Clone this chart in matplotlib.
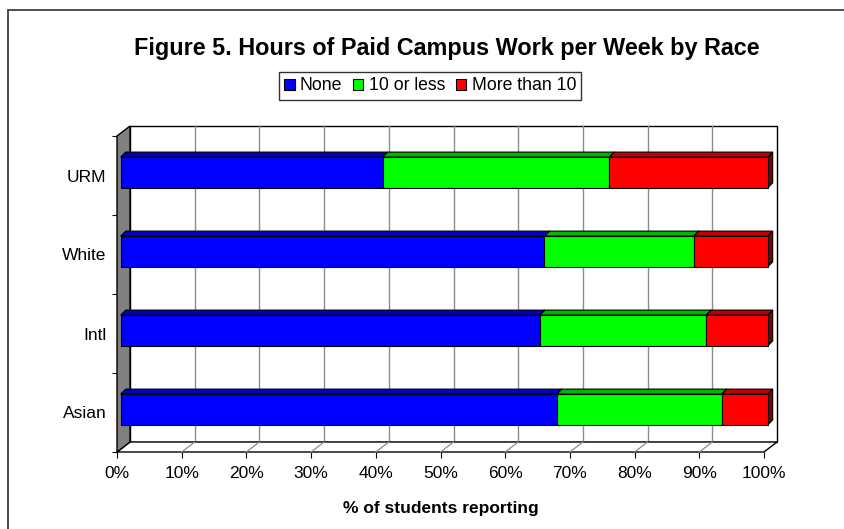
import matplotlib
matplotlib.use("Agg")
import matplotlib.pyplot as plt
import numpy as np
from matplotlib.patches import Polygon, Rectangle, Patch
from matplotlib.transforms import IdentityTransform

plt.rcParams['font.family'] = ['Liberation Sans', 'DejaVu Sans']

# ---- data (bottom to top) ----
categories = ["Asian", "Intl", "White", "URM"]
none_vals = [67.4, 64.8, 65.5, 40.5]
ten_or_less = [25.5, 25.7, 23.1, 35.0]
more_than_10 = [7.1, 9.5, 11.4, 24.5]
series_names = ["None", "10 or less", "More than 10"]
x_ticks = list(range(0, 101, 10))
x_ticklabels = [f"{t}%" for t in x_ticks]

front_cols = ["#0000FF", "#00FF00", "#FF0000"]
top_cols = ["#0000C0", "#00B400", "#C00000"]
side_cols = ["#000080", "#008000", "#800000"]

W, H = 844, 529
fig = plt.figure(figsize=(W / 100, H / 100), dpi=100)

# outer chart border
fig.patches.append(Rectangle((8 / W, -0.1), 1.5, 1 - 10 / H + 0.1, transform=fig.transFigure,
                             fill=False, edgecolor="#404040", lw=1.3))

ax = fig.add_axes([117 / W, 77 / H, 647 / W, 316 / H])
ax.set_xlim(0, 100)
ax.set_ylim(-0.5, len(categories) - 0.5)
ax.patch.set_visible(False)
for s in ax.spines.values():
    s.set_visible(False)

fig.canvas.draw()
DEPTH = np.array([13.0, 10.0])      # full depth in pixels
BAR_FRONT = np.array([3.7, 3.0])
BAR_BACK = np.array([8.7, 8.0])
ID = IdentityTransform()

def P(x, y, off=(0.0, 0.0)):
    p = ax.transData.transform((x, y))
    return (p[0] + off[0], p[1] + off[1])

def poly(pts, fc, ec="black", lw=1.0, z=1):
    ax.add_patch(Polygon(pts, closed=True, transform=ID, facecolor=fc, edgecolor=ec,
                         lw=lw, zorder=z, clip_on=False))

def seg(a, b, color, lw, z):
    ax.add_line(plt.Line2D([a[0], b[0]], [a[1], b[1]], transform=ID, color=color,
                           lw=lw, zorder=z, clip_on=False))

y0, y1 = -0.5, len(categories) - 0.5
# back wall
poly([P(0, y0, DEPTH), P(100, y0, DEPTH), P(100, y1, DEPTH), P(0, y1, DEPTH)], "white", z=1)
# gridlines on back wall
for t in x_ticks[1:-1]:
    seg(P(t, y0, DEPTH), P(t, y1, DEPTH), "#8c8c8c", 1.0, 2)
# floor
poly([P(0, y0), P(100, y0), P(100, y0, DEPTH), P(0, y0, DEPTH)], "white", z=2)
for t in x_ticks[1:-1]:
    seg(P(t, y0), P(t, y0, DEPTH), "#8c8c8c", 0.9, 3)
# left wall
poly([P(0, y0), P(0, y1), P(0, y1, DEPTH), P(0, y0, DEPTH)], "#808080", z=3)

# bars
bar_h = 0.39
series = [none_vals, ten_or_less, more_than_10]
for i, cat in enumerate(categories):
    left = 0.0
    for k, vals in enumerate(series):
        v = vals[i]
        r = left + v
        yb, yt = i - bar_h / 2, i + bar_h / 2
        z = 5 + k * 0.1
        front = [P(left, yb, BAR_FRONT), P(r, yb, BAR_FRONT), P(r, yt, BAR_FRONT), P(left, yt, BAR_FRONT)]
        top = [P(left, yt, BAR_FRONT), P(r, yt, BAR_FRONT), P(r, yt, BAR_BACK), P(left, yt, BAR_BACK)]
        side = [P(r, yb, BAR_FRONT), P(r, yt, BAR_FRONT), P(r, yt, BAR_BACK), P(r, yb, BAR_BACK)]
        poly(side, side_cols[k], lw=0.8, z=z)
        poly(top, top_cols[k], lw=0.8, z=z)
        poly(front, front_cols[k], lw=0.8, z=z)
        left = r

# ticks
ax.set_xticks(x_ticks)
ax.set_xticklabels(x_ticklabels, fontsize=12.5)
ax.tick_params(axis="x", direction="out", length=4, width=0.8, pad=6, colors="black")
ax.set_yticks(range(len(categories)))
ax.set_yticklabels(categories, fontsize=12.5)
ax.set_yticks(np.arange(-0.5, len(categories), 1.0), minor=True)
ax.tick_params(axis="y", which="major", length=0, pad=7.5)
ax.tick_params(axis="y", which="minor", direction="out", length=3.6, width=0.8)
ax.tick_params(top=False, right=False)

fig.text(447 / W, 1 - 49 / H, "Figure 5. Hours of Paid Campus Work per Week by Race",
         ha="center", va="center", fontsize=16.8, fontweight="bold")
fig.text(441 / W, 1 - 508 / H, "% of students reporting", ha="center", va="center",
         fontsize=12.5, fontweight="bold")

handles = [Patch(facecolor=c, edgecolor="black", lw=0.8) for c in front_cols]
leg = fig.legend(handles, series_names, loc="center", bbox_to_anchor=(430 / W, 1 - 86 / H),
                 ncol=3, fontsize=12.7, frameon=True, fancybox=False, handlelength=0.6,
                 handleheight=0.6, handletextpad=0.3, columnspacing=0.6, borderpad=0.3,
                 borderaxespad=0)
leg.get_frame().set_edgecolor("black")
leg.get_frame().set_linewidth(1.0)

fig.savefig("out.png", dpi=100)
